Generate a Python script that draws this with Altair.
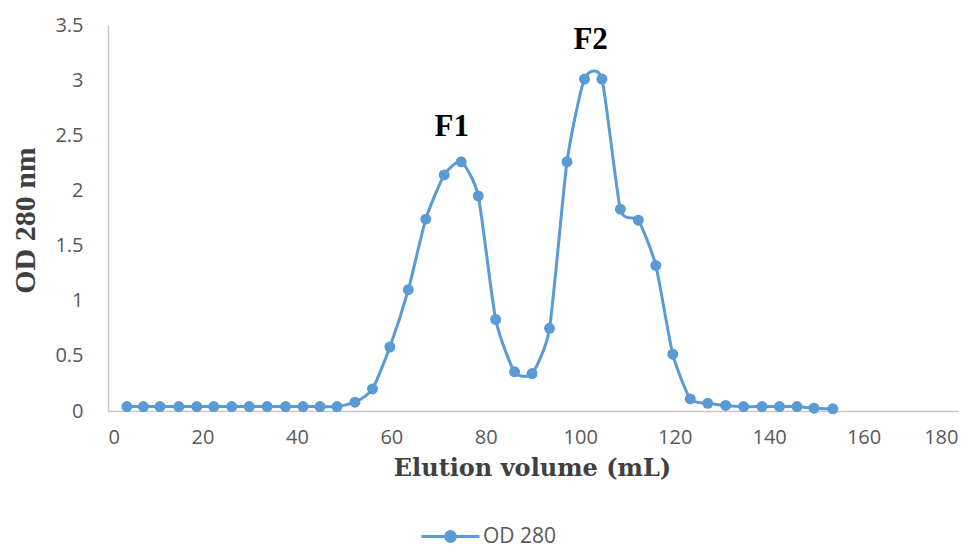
import altair as alt
import pandas as pd

# Elution volume (mL)
volume = [4, 7.5, 11, 15, 18.8, 22.4, 26.2, 29.9, 33.7, 37.6, 41.3, 44.9, 48.5,
          52.3, 56, 59.7, 63.6, 67.3, 71.2, 74.8, 78.4, 82.1, 86.1, 89.8, 93.5,
          97.2, 100.9, 104.6, 108.5, 112.3, 116, 119.6, 123.3, 127, 130.8, 134.6,
          138.5, 142.2, 145.9, 149.5, 153.5]
# OD 280
od280 = [0.04, 0.04, 0.04, 0.04, 0.04, 0.04, 0.04, 0.04, 0.04, 0.04, 0.04, 0.04, 0.04,
         0.08, 0.2, 0.58, 1.1, 1.74, 2.14, 2.26, 1.95, 0.83, 0.355, 0.34, 0.75,
         2.26, 3.01, 3.01, 1.83, 1.73, 1.32, 0.515, 0.11, 0.07, 0.05, 0.04,
         0.04, 0.04, 0.04, 0.025, 0.02]
series = "OD 280"

peak_labels = ["F1", "F2"]
peak_x = [72.8, 102.2]
peak_y = [2.575, 3.36]

x_ticks = list(range(0, 181, 20))
y_ticks = [0, 0.5, 1, 1.5, 2, 2.5, 3, 3.5]

df = pd.DataFrame({"x": volume, "y": od280, "series": [series] * len(volume)})
peaks = pd.DataFrame({"label": peak_labels, "x": peak_x, "y": peak_y})

blue = "#5B9BD5"
tick_font = "Open Sans"

xenc = alt.X("x:Q",
             scale=alt.Scale(domain=[0, 180], nice=False, zero=False),
             axis=alt.Axis(values=x_ticks, title="Elution volume (mL)", grid=False,
                           ticks=False, tickSize=0, domainColor="#c8c8c8", domainWidth=1.5,
                           labelFont=tick_font, labelFontSize=20, labelColor="#595959",
                           labelPadding=16,
                           titleFont="DejaVu Serif", titleFontSize=24, titleFontWeight="bold",
                           titleColor="#404040", titleX=424, titleY=57,
                           titleAlign="center", titleBaseline="middle"))
yenc = alt.Y("y:Q",
             scale=alt.Scale(domain=[0, 3.5], nice=False, zero=False),
             axis=alt.Axis(values=y_ticks, format="~g", title="OD 280 nm", grid=False,
                           ticks=False, tickSize=0, domainColor="#c8c8c8", domainWidth=1.5,
                           labelFont=tick_font, labelFontSize=20, labelColor="#595959",
                           labelPadding=25,
                           titleFont="Liberation Serif", titleFontSize=30, titleFontWeight="bold",
                           titleColor="#404040", titleX=-83, titleY=195, titleAngle=-90,
                           titleAlign="center", titleBaseline="middle"))

line = alt.Chart(df).mark_line(interpolate="cardinal", tension=0.4, strokeWidth=3,
                               color=blue).encode(x=xenc, y=yenc)

legend_path = ("M-1,0H1M-0.17,0a0.17,0.17 0 1,0 0.34,0a0.17,0.17 0 1,0 -0.34,0")

points = alt.Chart(df).mark_point(filled=True, size=120, opacity=1).encode(
    x="x:Q", y="y:Q",
    color=alt.Color("series:N",
                    scale=alt.Scale(domain=[series], range=[blue]),
                    legend=alt.Legend(title=None, orient="none", legendX=312, legendY=481,
                                      symbolType=legend_path, symbolSize=3364,
                                      symbolStrokeColor=blue, symbolFillColor=blue,
                                      symbolStrokeWidth=3, labelOffset=2,
                                      labelFont=tick_font, labelFontSize=21,
                                      labelColor="#595959", padding=0)))

labels = alt.Chart(peaks).mark_text(font="Liberation Serif", fontSize=31, fontWeight="bold",
                                    color="black", baseline="middle", align="center").encode(
    x="x:Q", y="y:Q", text="label:N")

chart = alt.layer(line, points, labels).properties(
    width=850, height=386,
    autosize=alt.AutoSizeParams(type="none"),
    padding={"left": 100, "top": 17, "right": 11, "bottom": 141},
).configure_view(stroke=None)

chart.save("out.html", embed_options={"renderer": "svg", "actions": False})
